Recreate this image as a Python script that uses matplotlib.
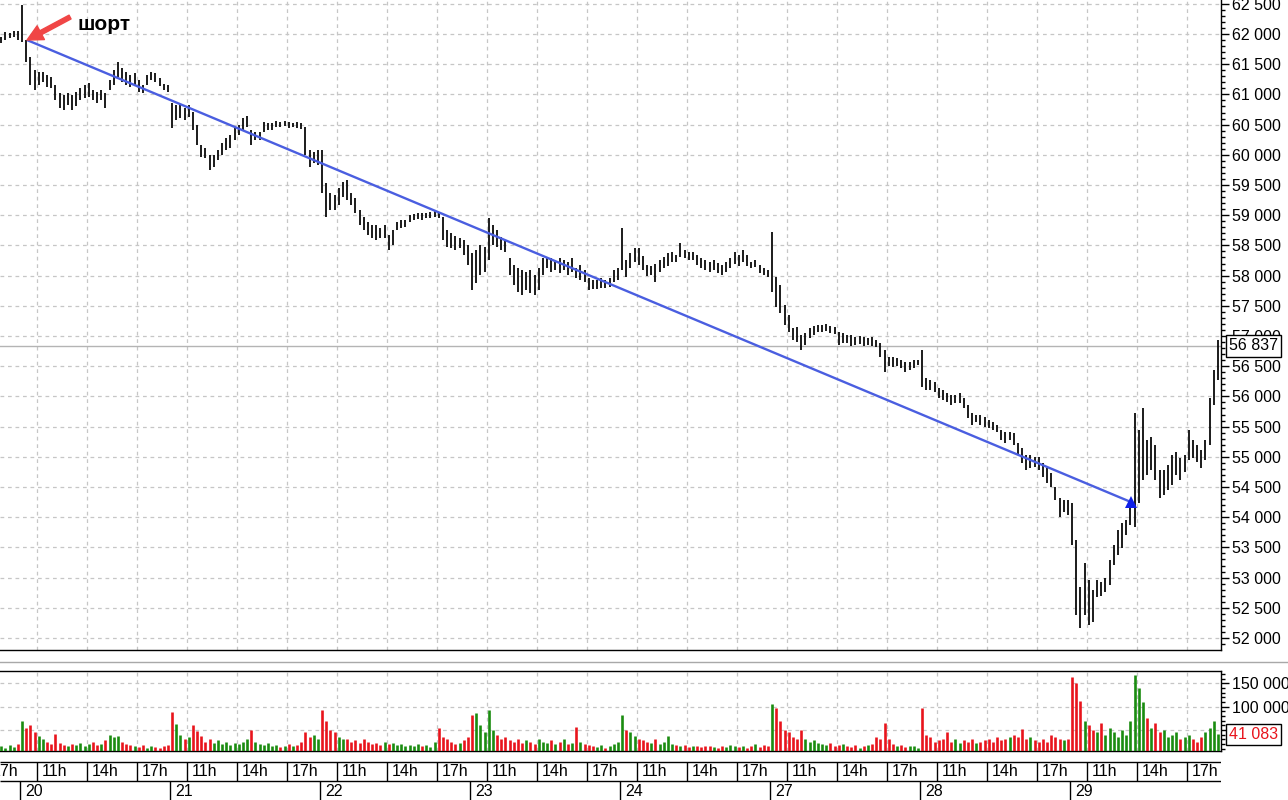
import numpy as np
import matplotlib
matplotlib.use('Agg')
import matplotlib.pyplot as plt
import matplotlib.transforms as mtransforms
from matplotlib.lines import Line2D
from matplotlib.ticker import MultipleLocator, FuncFormatter, FixedLocator

plt.rcParams['font.family'] = ['Liberation Sans', 'DejaVu Sans']

# ---------------- data (15-minute bars, session 10h-19h) ----------------
day_labels = ['20', '21', '22', '23', '24', '27', '28', '29']
hour_labels = ['11h', '14h', '17h']

high_19 = [61950, 62030, 62020, 62050, 62050]
low_19 = [61850, 61900, 61930, 61950, 61900]
vol_19 = [15000, 12000, 18000, 14000, 20000]

high_20 = [62480, 61900, 61620, 61400, 61370, 61370, 61320, 61290, 61160, 61020, 60990, 61020, 60990, 61040, 61110, 61160, 61190, 61070, 61040, 61070, 61020, 61240, 61400, 61540, 61440, 61370, 61320, 61350, 61240, 61160, 61320, 61370, 61350, 61270, 61170, 61160]
low_20 = [61870, 61540, 61160, 61070, 61160, 61210, 61120, 61110, 60910, 60770, 60740, 60820, 60740, 60810, 60910, 60940, 60960, 60910, 60860, 60910, 60770, 61070, 61160, 61290, 61210, 61160, 61120, 61160, 61040, 61020, 61160, 61240, 61210, 61140, 61070, 61040]
vol_20 = [70000, 55000, 60000, 45000, 38000, 30000, 25000, 20000, 41000, 22000, 18000, 15000, 20000, 18000, 22000, 15000, 20000, 25000, 18000, 20000, 28000, 40000, 35000, 38000, 25000, 20000, 18000, 15000, 14000, 18000, 12000, 15000, 14000, 12000, 16000, 18000]

high_21 = [60860, 60820, 60820, 60770, 60820, 60710, 60490, 60160, 60110, 60000, 60000, 60080, 60200, 60280, 60330, 60440, 60490, 60610, 60640, 60410, 60380, 60380, 60540, 60530, 60530, 60560, 60540, 60560, 60540, 60530, 60540, 60530, 60460, 60080, 60050, 60080]
low_21 = [60440, 60580, 60610, 60580, 60630, 60410, 60160, 59960, 59950, 59750, 59800, 59910, 60000, 60080, 60110, 60250, 60330, 60410, 60460, 60160, 60250, 60250, 60380, 60410, 60410, 60460, 60460, 60480, 60440, 60460, 60440, 60430, 60000, 59800, 59860, 59830]
vol_21 = [88000, 62000, 40000, 30000, 35000, 60000, 48000, 38000, 25000, 30000, 22000, 28000, 20000, 25000, 18000, 22000, 20000, 25000, 30000, 50000, 25000, 20000, 18000, 22000, 15000, 18000, 14000, 16000, 20000, 15000, 18000, 25000, 45000, 35000, 40000, 30000]

high_22 = [60080, 59530, 59370, 59330, 59450, 59550, 59580, 59370, 59280, 59090, 58970, 58890, 58840, 58840, 58790, 58840, 58670, 58750, 58890, 58920, 58920, 59000, 59020, 59040, 59040, 59040, 59050, 59090, 59050, 58970, 58750, 58700, 58650, 58620, 58590, 58510]
low_22 = [59370, 58970, 59090, 59090, 59170, 59300, 59250, 59170, 59040, 58840, 58760, 58670, 58620, 58590, 58620, 58620, 58420, 58510, 58760, 58790, 58810, 58890, 58920, 58940, 58920, 58950, 58950, 58970, 58950, 58590, 58470, 58460, 58420, 58460, 58340, 58170]
vol_22 = [94000, 70000, 50000, 45000, 35000, 30000, 32000, 25000, 28000, 22000, 30000, 25000, 20000, 22000, 18000, 25000, 20000, 22000, 18000, 20000, 15000, 18000, 16000, 20000, 15000, 18000, 14000, 25000, 54000, 35000, 30000, 25000, 20000, 22000, 28000, 35000]

high_23 = [58370, 58420, 58510, 58470, 58950, 58840, 58750, 58640, 58590, 58290, 58180, 58130, 58090, 58060, 58090, 58010, 58130, 58290, 58310, 58290, 58260, 58290, 58260, 58220, 58290, 58130, 58180, 58090, 57960, 57930, 57930, 57960, 57930, 57960, 58090, 58130]
low_23 = [57760, 57880, 58010, 58060, 58260, 58510, 58470, 58420, 58390, 58010, 57840, 57730, 57680, 57760, 57710, 57680, 57760, 58010, 58130, 58060, 58090, 58040, 58090, 58010, 58060, 57960, 57930, 57890, 57760, 57780, 57780, 57800, 57800, 57810, 57890, 57930]
vol_23 = [83000, 87000, 60000, 45000, 93000, 50000, 40000, 30000, 35000, 28000, 25000, 30000, 22000, 28000, 25000, 20000, 30000, 25000, 22000, 28000, 20000, 24000, 30000, 20000, 22000, 57000, 25000, 20000, 18000, 15000, 14000, 18000, 12000, 15000, 20000, 25000]

high_24 = [58790, 58260, 58370, 58460, 58460, 58330, 58180, 58160, 58190, 58260, 58310, 58370, 58390, 58340, 58540, 58420, 58390, 58390, 58340, 58290, 58260, 58220, 58260, 58210, 58180, 58220, 58290, 58390, 58340, 58420, 58340, 58220, 58260, 58180, 58130, 58090]
low_24 = [58090, 57980, 58130, 58230, 58180, 58090, 57990, 58010, 57890, 58060, 58130, 58160, 58230, 58230, 58310, 58290, 58260, 58260, 58180, 58130, 58090, 58060, 58090, 58040, 58010, 58060, 58130, 58190, 58160, 58230, 58160, 58130, 58140, 58040, 58010, 57980]
vol_24 = [83000, 50000, 45000, 38000, 30000, 28000, 25000, 22000, 30000, 20000, 25000, 37000, 20000, 18000, 15000, 18000, 14000, 16000, 15000, 14000, 17000, 15000, 14000, 12000, 16000, 14000, 18000, 15000, 14000, 16000, 12000, 15000, 20000, 14000, 18000, 16000]

high_27 = [58720, 57980, 57840, 57510, 57350, 57130, 57150, 57020, 57050, 57130, 57170, 57180, 57180, 57200, 57170, 57150, 57070, 57050, 57020, 57020, 56980, 57000, 56980, 56970, 56980, 56930, 56880, 56770, 56650, 56650, 56640, 56600, 56570, 56570, 56600, 56600]
low_27 = [57730, 57480, 57380, 57180, 57070, 56930, 56900, 56770, 56850, 56970, 57020, 57070, 57070, 57080, 57050, 57030, 56850, 56880, 56880, 56830, 56850, 56870, 56830, 56850, 56830, 56820, 56650, 56410, 56500, 56490, 56500, 56470, 56400, 56440, 56470, 56520]
vol_27 = [106000, 98000, 70000, 50000, 45000, 35000, 30000, 50000, 30000, 25000, 28000, 22000, 20000, 18000, 22000, 15000, 18000, 20000, 15000, 14000, 18000, 12000, 15000, 18000, 20000, 35000, 30000, 65000, 30000, 20000, 15000, 18000, 14000, 16000, 15000, 12000]

high_28 = [56770, 56300, 56270, 56240, 56140, 56110, 56060, 56020, 56020, 56060, 55970, 55860, 55720, 55690, 55690, 55660, 55610, 55580, 55530, 55440, 55410, 55410, 55390, 55230, 55150, 55030, 55030, 55000, 55000, 54900, 54810, 54730, 54500, 54320, 54290, 54290]
low_28 = [56160, 56110, 56110, 56070, 55970, 55940, 55910, 55860, 55890, 55890, 55810, 55640, 55530, 55580, 55530, 55490, 55480, 55440, 55410, 55280, 55230, 55280, 55200, 55030, 54900, 54780, 54820, 54830, 54780, 54670, 54560, 54500, 54290, 54000, 54090, 54040]
vol_28 = [98000, 40000, 35000, 25000, 28000, 30000, 45000, 25000, 30000, 22000, 28000, 25000, 30000, 22000, 25000, 28000, 30000, 25000, 35000, 28000, 30000, 35000, 40000, 35000, 52000, 30000, 35000, 28000, 25000, 30000, 25000, 40000, 35000, 30000, 28000, 30000]

high_29 = [54240, 53620, 52840, 53240, 52960, 52800, 52960, 52930, 53000, 53290, 53540, 53790, 53910, 53960, 54210, 55720, 55440, 55810, 55280, 55330, 55200, 54780, 54780, 54860, 55030, 55080, 54980, 55030, 55440, 55280, 55200, 55110, 55280, 55970, 56440, 56930]
low_29 = [53540, 52380, 52160, 52380, 52220, 52270, 52680, 52700, 52760, 52880, 53210, 53370, 53490, 53710, 53870, 53830, 54240, 54620, 54700, 54780, 54620, 54320, 54370, 54450, 54530, 54700, 54620, 54750, 54950, 54980, 54910, 54810, 54950, 55200, 55860, 56270]
vol_29 = [163000, 150000, 113000, 70000, 60000, 50000, 45000, 65000, 40000, 55000, 45000, 35000, 50000, 40000, 70000, 167000, 140000, 110000, 75000, 55000, 65000, 45000, 50000, 35000, 40000, 45000, 30000, 35000, 40000, 30000, 25000, 35000, 45000, 55000, 70000, 41083]

last_price = 56837
last_volume = 41083
entry_day, entry_price = 0.047, 61900   # short entry (day 20, ~10:25)
exit_day, exit_price = 7.407, 54250     # exit (day 29, ~13:40)

# ---------------- assemble bars ----------------
BARS = 36
sessions = [(-1, 31, high_19, low_19, vol_19), (0, 0, high_20, low_20, vol_20),
            (1, 0, high_21, low_21, vol_21), (2, 0, high_22, low_22, vol_22),
            (3, 0, high_23, low_23, vol_23), (4, 0, high_24, low_24, vol_24),
            (5, 0, high_27, low_27, vol_27), (6, 0, high_28, low_28, vol_28),
            (7, 0, high_29, low_29, vol_29)]
T, HI, LO, VO = [], [], [], []
for d, s, h, l, v in sessions:
    n = min(len(h), len(l), len(v))
    for i in range(n):
        T.append(d + (s + i + 0.5) / BARS)
        HI.append(h[i]); LO.append(l[i]); VO.append(v[i])
T = np.array(T); HI = np.array(HI); LO = np.array(LO); VO = np.array(VO)
mid = (HI + LO) / 2
up = np.concatenate([[True], mid[1:] >= mid[:-1]])

# ---------------- figure layout (pixel based) ----------------
W, H = 1288, 800
fig = plt.figure(figsize=(W / 100, H / 100), dpi=100)
def fx(px): return px / W
def fy(py): return 1 - py / H

XR = 1221
xlim = (-20 / 150, (XR - 20) / 150)

ax = fig.add_axes([0, fy(650), fx(XR), fy(0) - fy(650)])
axv = fig.add_axes([0, fy(751), fx(XR), fy(671) - fy(751)])
axt = fig.add_axes([0, 0, fx(XR), fy(751)])

hour_ticks = []
hour_tick_labels = []
for d in range(-1, 8):
    for k, lab in zip((1, 4, 7), hour_labels):
        t = d + k / 9
        if t > xlim[0] - 0.12:
            hour_ticks.append(t)
            hour_tick_labels.append(lab)
grid_ticks = [t for t in hour_ticks if xlim[0] < t < xlim[1]]

grid_kw = dict(linestyle=(0, (3, 3)), color='#c6c6c6', linewidth=0.9)
fmt = FuncFormatter(lambda v, p: f'{int(round(v)):,}'.replace(',', ' '))

# ---------------- price panel ----------------
ax.vlines(T, LO, HI, color='black', linewidth=1.25, zorder=3)
ax.set_xticks(grid_ticks)
ax.set_xlim(*xlim)
ax.set_ylim(51801, 62563)
ax.tick_params(axis='x', length=0, labelbottom=False)
ax.yaxis.tick_right()
ax.yaxis.set_major_locator(FixedLocator(np.arange(52000, 62501, 500)))
ax.yaxis.set_minor_locator(MultipleLocator(100))
ax.yaxis.set_major_formatter(fmt)
ax.tick_params(axis='y', which='major', length=6, width=1, labelsize=11.5, pad=2, colors='black')
ax.tick_params(axis='y', which='minor', length=3, width=1)
ax.grid(True, which='major', **grid_kw)
for s in ('left', 'top'):
    ax.spines[s].set_visible(False)
for s in ('right', 'bottom'):
    ax.spines[s].set_color('black'); ax.spines[s].set_linewidth(1)

ax.axhline(last_price, color='#b4b4b4', linewidth=1, zorder=2)
ax.text(1229 / XR, last_price, f'{last_price:,}'.replace(',', ' '),
        transform=mtransforms.blended_transform_factory(ax.transAxes, ax.transData),
        ha='left', va='center', fontsize=11.5, color='black', zorder=10, clip_on=False,
        bbox=dict(boxstyle='square,pad=0.2', fc='white', ec='black', lw=1))

# trend line of the trade
ax.plot([entry_day, exit_day], [entry_price, exit_price], color='#4a5ee0', linewidth=1.7, zorder=4,
        solid_capstyle='butt')
ax.plot([exit_day], [exit_price], marker='^', color='#1020e8', markersize=8.5, zorder=5,
        markeredgewidth=0)

ax.annotate('', xy=(entry_day, entry_price), xytext=(43, 23), textcoords='offset pixels',
            arrowprops=dict(arrowstyle='simple,head_length=0.8,head_width=0.8,tail_width=0.22',
                            color='#f04646', shrinkA=0, shrinkB=0, mutation_scale=14), zorder=6)
ax.annotate('шорт', xy=(entry_day, entry_price), xytext=(50, 10), textcoords='offset pixels',
            ha='left', va='baseline', fontsize=15, fontweight='bold', color='black', zorder=6)

# ---------------- volume panel ----------------
cols = np.where(up, '#1a8c10', '#e8141c')
axv.vlines(T, 0, VO, colors=cols, linewidth=1.9, zorder=3)
axv.set_xticks(grid_ticks)
axv.set_xlim(*xlim)
axv.set_ylim(5300, 176300)
axv.tick_params(axis='x', length=0, labelbottom=False)
axv.yaxis.tick_right()
axv.yaxis.set_major_locator(FixedLocator([50000, 100000, 150000]))
axv.yaxis.set_minor_locator(MultipleLocator(10000))
axv.yaxis.set_major_formatter(FuncFormatter(lambda v, p: '' if v < 60000 else f'{int(round(v)):,}'.replace(',', ' ')))
axv.tick_params(axis='y', which='major', length=6, width=1, labelsize=11.5, pad=2)
axv.tick_params(axis='y', which='minor', length=3, width=1)
axv.grid(True, which='major', **grid_kw)
axv.spines['left'].set_visible(False)
for s in ('right', 'bottom', 'top'):
    axv.spines[s].set_color('black'); axv.spines[s].set_linewidth(1)
axv.text(1229 / XR, last_volume, f'{last_volume:,}'.replace(',', ' '),
         transform=mtransforms.blended_transform_factory(axv.transAxes, axv.transData),
         ha='left', va='center', fontsize=11.5, color='#e8141c', zorder=10, clip_on=False,
         bbox=dict(boxstyle='square,pad=0.2', fc='white', ec='black', lw=1))

# separator line between panels
fig.add_artist(Line2D([0, 1], [fy(661.5), fy(661.5)], transform=fig.transFigure,
                      color='#a8a8a8', linewidth=1))

# ---------------- time axis ----------------
axt.set_xlim(*xlim)
axt.set_ylim(800, 751)
axt.axis('off')
axt.hlines([761.5, 781], xlim[0], xlim[1], color='black', linewidth=1)
axt.vlines(grid_ticks, 761.5, 781, color='black', linewidth=1)
off = 5 / 150
for t, lab in zip(hour_ticks, hour_tick_labels):
    axt.text(t + off, 771.5, lab, ha='left', va='center', fontsize=11.5, color='black')
for d, lab in enumerate(day_labels):
    axt.vlines(d, 781, 800, color='black', linewidth=1)
    axt.text(d + off, 791, lab, ha='left', va='center', fontsize=11.5, color='black')

fig.savefig('out.png', dpi=100)
